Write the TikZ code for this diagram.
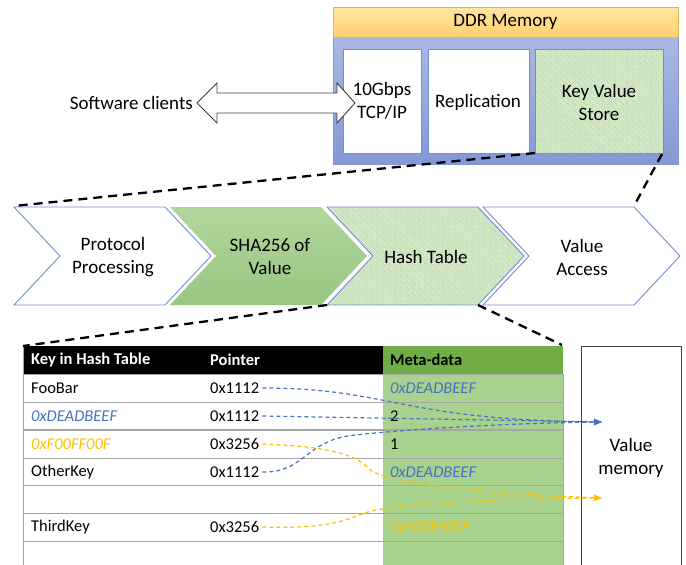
\documentclass[tikz,border=0pt]{standalone}
\usepackage{fontspec}
\setmainfont{Carlito}
\usetikzlibrary{patterns.meta,arrows.meta}

\definecolor{hdrTop}{HTML}{FFE6A3}
\definecolor{hdrBot}{HTML}{FFD06C}
\definecolor{hdrEdge}{HTML}{E3B552}
\definecolor{bodyTop}{HTML}{AAB9E2}
\definecolor{bodyBot}{HTML}{8598D5}
\definecolor{bodyEdge}{HTML}{8497D3}
\definecolor{boxEdge}{HTML}{6F8FD2}
\definecolor{hatchBg}{HTML}{E6F1DC}
\definecolor{hatchLn}{HTML}{A6CF92}
\definecolor{shaTop}{HTML}{B3D59D}
\definecolor{shaBot}{HTML}{98C682}
\definecolor{metaHead}{HTML}{70AD47}
\definecolor{metaBody}{HTML}{A9D18E}
\definecolor{keyBlue}{HTML}{4472C4}
\definecolor{keyGold}{HTML}{FFC000}
\definecolor{grid}{HTML}{A6A6A6}
\definecolor{darkEdge}{HTML}{404040}

\newcommand\chevronAt[1]{(#1,207) -- ++(151,0) -- ++(46,49) -- ++(-46,49) -- ++(-151,0) -- ++(46,-49) -- cycle}

\tikzset{
  x=1pt, y=-1pt,
  lbl/.style={font=\fontsize{19}{23}\selectfont, align=center, inner sep=0pt},
  cell/.style={font=\fontsize{16.5}{20}\selectfont, anchor=west, inner sep=0pt},
  headcell/.style={cell, font=\fontsize{16.5}{20}\selectfont\bfseries},
  innerbox/.style={draw=boxEdge, line width=0.9pt, fill=white},
  hatched/.style={pattern={Lines[angle=-45,distance=1.7pt,line width=0.45pt]}, pattern color=hatchLn},
  zoomline/.style={draw=black, line width=2.3pt, dash pattern=on 9pt off 6pt},
  ptrblue/.style={draw=keyBlue, line width=1.2pt, dash pattern=on 4pt off 3pt, -{Triangle[length=8pt,width=6pt]}},
  ptrgold/.style={draw=keyGold, line width=1.2pt, dash pattern=on 4pt off 3pt, -{Triangle[length=8pt,width=6pt]}},
  gridline/.style={draw=grid, line width=1pt},
}

\begin{document}
\begin{tikzpicture}
\useasboundingbox (0,0) rectangle (686,565);

% ---------- DDR memory block ----------
\shade[top color=bodyTop, bottom color=bodyBot] (333,37) rectangle (678,164);
\draw[bodyEdge, line width=0.8pt] (333,37) rectangle (678,164);
\shade[top color=hdrTop, bottom color=hdrBot] (333,7) rectangle (678,37);
\draw[hdrEdge, line width=0.8pt] (333,7) rectangle (678,37);
\node[lbl] (ddr) at (505.5,22) {DDR Memory};

\path[innerbox] (343,49) rectangle (421,153);
\path[innerbox] (428,49) rectangle (529,153);
\fill[hatchBg] (535,49) rectangle (663,153);
\fill[hatched] (535,49) rectangle (663,153);
\draw[boxEdge, line width=0.9pt] (535,49) rectangle (663,153);
\coordinate (kvsSW) at (535,153);
\coordinate (kvsSE) at (662,154);

\node[lbl] (tcp) at (382,101) {10Gbps\\TCP/IP};
\node[lbl] (repl) at (478,102) {Replication};
\node[lbl] (kvs) at (599,102) {Key Value\\Store};

% ---------- software clients link ----------
\node[lbl, anchor=east] (clients) at (193,103) {Software clients};
\draw[darkEdge, fill=white, line width=0.9pt, line join=miter]
  (197,103) -- (217,83) -- (217,93) -- (337,93) -- (337,83) -- (355,103)
  -- (337,123) -- (337,113) -- (217,113) -- (217,123) -- cycle;

% ---------- processing pipeline ----------
\path[draw=boxEdge, line width=0.9pt, fill=white] \chevronAt{14};
\shade[top color=shaTop, bottom color=shaBot] \chevronAt{170};
\fill[hatchBg] \chevronAt{327};
\fill[hatched] \chevronAt{327};
\draw[boxEdge, line width=0.9pt] \chevronAt{327};
\path[draw=boxEdge, line width=0.9pt, fill=white] \chevronAt{483};

\coordinate (ppNW) at (14,206);
\coordinate (vaNE) at (634,206);
\coordinate (htSW) at (327,305);
\coordinate (htSE) at (478,305);

\node[lbl] (proto) at (113,257) {Protocol\\Processing};
\node[lbl] (sha) at (270,257) {SHA256 of\\Value};
\node[lbl] (hash) at (426,257) {Hash Table};
\node[lbl] (vacc) at (582,257) {Value\\Access};

\draw[zoomline] (kvsSW) -- (ppNW);
\draw[zoomline] (kvsSE) -- (vaNE);

% ---------- hash table ----------
\fill[black] (23,346) rectangle (383,374);
\fill[metaHead] (383,346) rectangle (563,374);
\fill[metaBody] (383,374) rectangle (563,566);
\foreach \yy in {374,402,458,485,513,541}
  \draw[gridline] (23,\yy) -- (563,\yy);
\draw[grid, line width=1.8pt] (23,430) -- (563,430);
\draw[gridline] (23,346) -- (23,566);
\draw[gridline] (563,374) -- (563,566);

\coordinate (tabNW) at (23,346);
\coordinate (tabNE) at (562,345);
\draw[zoomline] (htSW) -- (tabNW);
\draw[zoomline] (htSE) -- (tabNE);

\node[headcell, text=white] (hKey) at (31,360) {Key in Hash Table};
\node[headcell, text=white] (hPtr) at (210,360) {Pointer};
\node[headcell] (hMeta) at (390,360) {Meta-data};

\node[cell] (k1) at (31,388) {FooBar};
\node[cell, text=keyBlue] (k2) at (31,416) {\itshape 0xDEADBEEF};
\node[cell, text=keyGold] (k3) at (31,444) {\itshape 0xF00FF00F};
\node[cell] (k4) at (31,472) {OtherKey};
\node[cell] (k6) at (31,527) {ThirdKey};

\node[cell] (p1) at (210,388) {0x1112};
\node[cell] (p2) at (210,416) {0x1112};
\node[cell] (p3) at (210,444) {0x3256};
\node[cell] (p4) at (210,472) {0x1112};
\node[cell] (p6) at (210,527) {0x3256};

\node[cell, text=keyBlue] (m1) at (390,388) {\itshape 0xDEADBEEF};
\node[cell] (m2) at (390,416) {2};
\node[cell] (m3) at (390,444) {1};
\node[cell, text=keyBlue] (m4) at (390,472) {\itshape 0xDEADBEEF};
\node[cell, text=keyGold] (m6) at (390,527) {\itshape 0xF00FF00F};

% ---------- value memory ----------
\draw[darkEdge, line width=1pt] (581,566) -- (581,346) -- (681,346) -- (681,566);
\node[lbl] (vmem) at (631,458) {Value\\memory};
\coordinate (vmBlue) at (602,422);
\coordinate (vmGold) at (602,498);

% ---------- pointer links ----------
\draw[ptrblue] ([xshift=3pt]p1.east) .. controls (390,388) and (400,420) .. (vmBlue);
\draw[ptrblue] ([xshift=3pt]p2.east) -- (vmBlue);
\draw[ptrblue] ([xshift=3pt]p4.east) .. controls (305,473) and (305,440) .. (355,435)
  .. controls (420,428) and (520,423) .. (vmBlue);
\draw[ptrgold] ([xshift=3pt]p3.east) .. controls (320,446) and (355,453) .. (368,468)
  .. controls (380,482) and (470,493) .. (vmGold);
\draw[ptrgold] ([xshift=3pt]p6.east) .. controls (330,529) and (345,520) .. (365,513)
  .. controls (390,504) and (480,499) .. (vmGold);
\end{tikzpicture}
\end{document}
